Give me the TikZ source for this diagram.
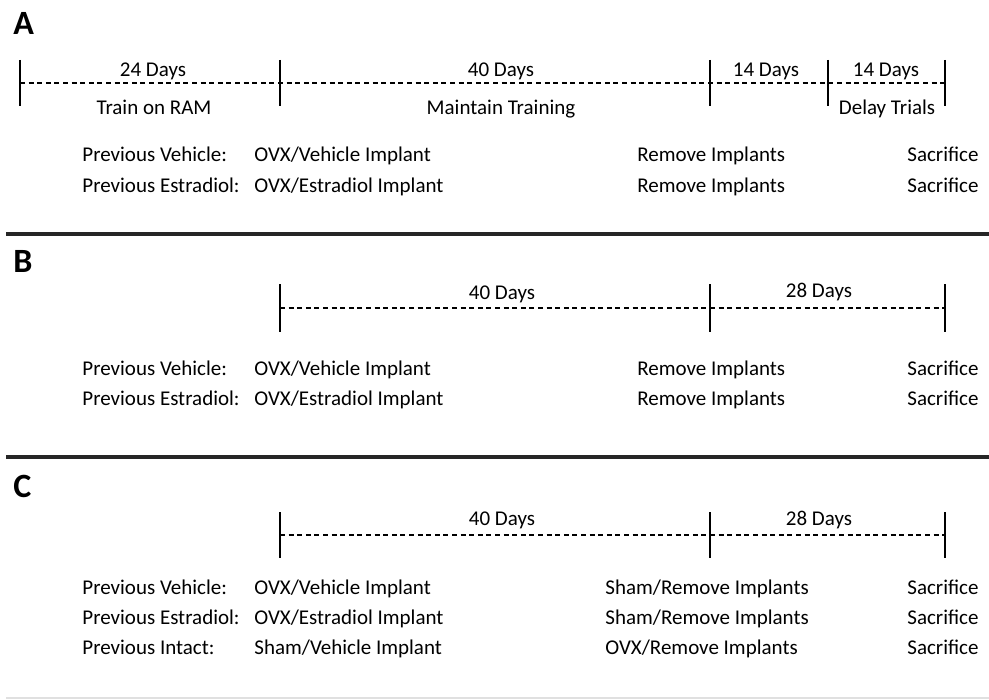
\documentclass[tikz,border=0pt]{standalone}
\usepackage{fontspec}
\setmainfont{Carlito}
\usetikzlibrary{calc,positioning}
\tikzset{
  timeLine/.style={line width=0.7pt, dash pattern=on 2.5pt off 1.8pt},
  tickLine/.style={line width=0.9pt},
  panelRule/.style={line width=2pt, draw=black!85},
  panelLabel/.style={font=\fontsize{17}{20}\selectfont\bfseries, anchor=base west, inner sep=0pt},
  dayLabel/.style={font=\fontsize{10.5}{12}\selectfont, anchor=base, inner sep=0pt},
  rowLabel/.style={font=\fontsize{10.5}{12}\selectfont, anchor=base west, inner sep=0pt},
}

\begin{document}
\begin{tikzpicture}[x=0.5pt, y=-0.5pt]
\useasboundingbox (0,0) rectangle (989,700);

% ===== Panel A =====
\node[panelLabel] (labA) at (13,35) {A};
\foreach [count=\i] \x in {20,280,710,828,945} {
  \coordinate (a\i) at (\x,83);
  \draw[tickLine] ($(a\i)+(0,-23)$) -- ($(a\i)+(0,23)$);
}
\draw[timeLine] (a1) -- (a5);
\node[dayLabel] (aDays1) at (153,77) {24 Days};
\node[dayLabel] (aDays2) at (501,77) {40 Days};
\node[dayLabel] (aDays3) at (766,77) {14 Days};
\node[dayLabel] (aDays4) at (886,77) {14 Days};
\node[dayLabel] (aPhase1) at (154,115) {Train on RAM};
\node[dayLabel] (aPhase2) at (501,115) {Maintain Training};
\node[dayLabel] (aPhase4) at (887,115) {Delay Trials};

\node[rowLabel] (aVeh) at (82,162) {Previous Vehicle:};
\node[rowLabel] (aVehImp) at (254,162) {OVX/Vehicle Implant};
\node[rowLabel] (aVehRem) at (637,162) {Remove Implants};
\node[rowLabel] (aVehSac) at (907,162) {Sacrifice};
\node[rowLabel] (aEst) at (82,192) {Previous Estradiol:};
\node[rowLabel] (aEstImp) at (254,192) {OVX/Estradiol Implant};
\node[rowLabel] (aEstRem) at (637,192) {Remove Implants};
\node[rowLabel] (aEstSac) at (907,192) {Sacrifice};

\coordinate (ruleA1) at (6,234);
\coordinate (ruleA2) at (989,234);
\draw[panelRule] (ruleA1) -- (ruleA2);

% ===== Panel B =====
\node[panelLabel] (labB) at (13,272) {B};
\foreach [count=\i] \x in {280,710,945} {
  \coordinate (b\i) at (\x,308);
  \draw[tickLine] ($(b\i)+(0,-24)$) -- ($(b\i)+(0,24)$);
}
\draw[timeLine] (b1) -- (b3);
\node[dayLabel] (bDays1) at (502,299) {40 Days};
\node[dayLabel] (bDays2) at (819,297) {28 Days};

\node[rowLabel] (bVeh) at (82,375) {Previous Vehicle:};
\node[rowLabel] (bVehImp) at (254,375) {OVX/Vehicle Implant};
\node[rowLabel] (bVehRem) at (637,375) {Remove Implants};
\node[rowLabel] (bVehSac) at (907,375) {Sacrifice};
\node[rowLabel] (bEst) at (82,405) {Previous Estradiol:};
\node[rowLabel] (bEstImp) at (254,405) {OVX/Estradiol Implant};
\node[rowLabel] (bEstRem) at (637,405) {Remove Implants};
\node[rowLabel] (bEstSac) at (907,405) {Sacrifice};

\coordinate (ruleB1) at (6,457);
\coordinate (ruleB2) at (989,457);
\draw[panelRule] (ruleB1) -- (ruleB2);

% ===== Panel C =====
\node[panelLabel] (labC) at (13,497) {C};
\foreach [count=\i] \x in {280,710,945} {
  \coordinate (c\i) at (\x,535);
  \draw[tickLine] ($(c\i)+(0,-23)$) -- ($(c\i)+(0,23)$);
}
\draw[timeLine] (c1) -- (c3);
\node[dayLabel] (cDays1) at (502,525) {40 Days};
\node[dayLabel] (cDays2) at (819,525) {28 Days};

\node[rowLabel] (cVeh) at (82,594) {Previous Vehicle:};
\node[rowLabel] (cVehImp) at (254,594) {OVX/Vehicle Implant};
\node[rowLabel] (cVehRem) at (605,594) {Sham/Remove Implants};
\node[rowLabel] (cVehSac) at (907,594) {Sacrifice};
\node[rowLabel] (cEst) at (82,624) {Previous Estradiol:};
\node[rowLabel] (cEstImp) at (254,624) {OVX/Estradiol Implant};
\node[rowLabel] (cEstRem) at (605,624) {Sham/Remove Implants};
\node[rowLabel] (cEstSac) at (907,624) {Sacrifice};
\node[rowLabel] (cInt) at (82,654) {Previous Intact:};
\node[rowLabel] (cIntImp) at (254,654) {Sham/Vehicle Implant};
\node[rowLabel] (cIntRem) at (605,654) {OVX/Remove Implants};
\node[rowLabel] (cIntSac) at (907,654) {Sacrifice};

\coordinate (ruleC1) at (6,698);
\coordinate (ruleC2) at (989,698);
\draw[line width=1pt, draw=black!12] (ruleC1) -- (ruleC2);

\end{tikzpicture}
\end{document}
